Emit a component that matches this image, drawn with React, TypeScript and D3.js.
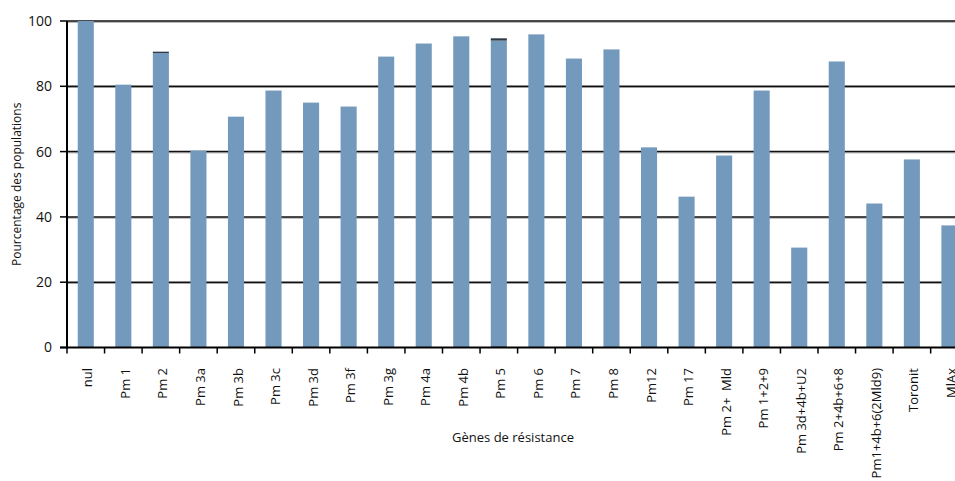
import React from "react";
import * as d3 from "d3";

const categories = [
  "nul", "Pm 1", "Pm 2", "Pm 3a", "Pm 3b", "Pm 3c", "Pm 3d", "Pm 3f", "Pm 3g",
  "Pm 4a", "Pm 4b", "Pm 5", "Pm 6", "Pm 7", "Pm 8", "Pm12", "Pm 17",
  "Pm 2+  Mld", "Pm 1+2+9", "Pm 3d+4b+U2", "Pm 2+4b+6+8", "Pm1+4b+6(2Mld9)",
  "Toronit", "MlAx",
];
const baseValues = [0, 0, 0, 0, 0, 0, 0, 0, 0, 0, 0, 0.4, 0, 0, 0, 0, 0, 0, 0, 0, 0, 0, 0, 0];
const mainValues = [
  100, 80.5, 90.2, 60.3, 70.7, 78.7, 75.0, 73.8, 89.1,
  93.1, 95.3, 93.6, 95.9, 88.5, 91.3, 61.3, 46.2,
  58.8, 78.7, 30.6, 87.6, 44.1, 57.6, 37.4,
];
const capValues = [0, 0, 0.4, 0, 0, 0, 0, 0, 0, 0, 0, 0.7, 0, 0, 0, 0, 0, 0, 0, 0, 0, 0, 0, 0];
const yTicks = [0, 20, 40, 60, 80, 100];

const W = 955;
const H = 481;
const left = 67;
const bandW = 37.55;
const top = 21;
const bottom = 347.5;
const font = "'Open Sans', 'DejaVu Sans', sans-serif";

export default function App() {
  const x = d3
    .scaleBand<string>()
    .domain(categories)
    .range([left, left + bandW * categories.length])
    .paddingInner(0.572)
    .paddingOuter(0.286);
  const y = d3.scaleLinear().domain([0, 100]).range([bottom, top]);
  const bw = x.bandwidth();
  const series = [
    { values: baseValues, color: "#3a4a5c" },
    { values: mainValues, color: "#7399bd" },
    { values: capValues, color: "#2f3a47" },
  ];
  const stacked = categories.map((_, i) => {
    let acc = 0;
    return series.map((s) => {
      const y0 = acc;
      acc += s.values[i];
      return { y0, y1: acc, color: s.color };
    });
  });
  const ticksX = d3.range(categories.length + 1).map((i) => left + i * bandW);

  return (
    <svg
      width={W}
      height={H}
      style={{ position: "absolute", left: 0, top: 0, background: "#fff" }}
      fontFamily={font}
    >
      {yTicks
        .filter((t) => t > 0)
        .map((t) => (
          <g key={"g" + t}>
            <line x1={left} x2={W} y1={y(t) + 1.2} y2={y(t) + 1.2} stroke="#9a9a9a" strokeWidth={1} />
            <line x1={left} x2={W} y1={y(t)} y2={y(t)} stroke="#111" strokeWidth={1.5} />
          </g>
        ))}
      {categories.map((c, i) =>
        stacked[i].map((seg, j) =>
          seg.y1 > seg.y0 ? (
            <rect
              key={c + j}
              x={x(c)}
              y={y(seg.y1)}
              width={bw}
              height={y(seg.y0) - y(seg.y1)}
              fill={seg.color}
            />
          ) : null
        )
      )}
      <line x1={left} x2={left} y1={top} y2={bottom + 1} stroke="#000" strokeWidth={2} />
      <line x1={left - 7} x2={W} y1={bottom} y2={bottom} stroke="#000" strokeWidth={2} />
      {yTicks.map((t) => (
        <g key={"t" + t}>
          <line x1={left - 7} x2={left} y1={y(t)} y2={y(t)} stroke="#000" strokeWidth={1.5} />
          <text x={52} y={y(t)} dy="0.35em" textAnchor="end" fontSize={14} fill="#111">
            {t}
          </text>
        </g>
      ))}
      {ticksX.map((tx, i) => (
        <line key={"xt" + i} x1={tx} x2={tx} y1={bottom} y2={bottom + 6} stroke="#000" strokeWidth={1.5} />
      ))}
      {categories.map((c) => (
        <text
          key={"l" + c}
          transform={`translate(${(x(c) as number) + bw / 2 + 2},${368}) rotate(-90)`}
          dy="0.35em"
          textAnchor="end"
          fontSize={13}
          fill="#111"
          style={{ whiteSpace: "pre" }}
        >
          {c}
        </text>
      ))}
      <text x={513} y={442} textAnchor="middle" fontSize={13} fill="#111">
        Gènes de résistance
      </text>
      <text
        transform={`translate(17,${(top + bottom) / 2}) rotate(-90)`}
        dy="0.35em"
        textAnchor="middle"
        fontSize={12}
        fill="#111"
      >
        Pourcentage des populations
      </text>
    </svg>
  );
}
